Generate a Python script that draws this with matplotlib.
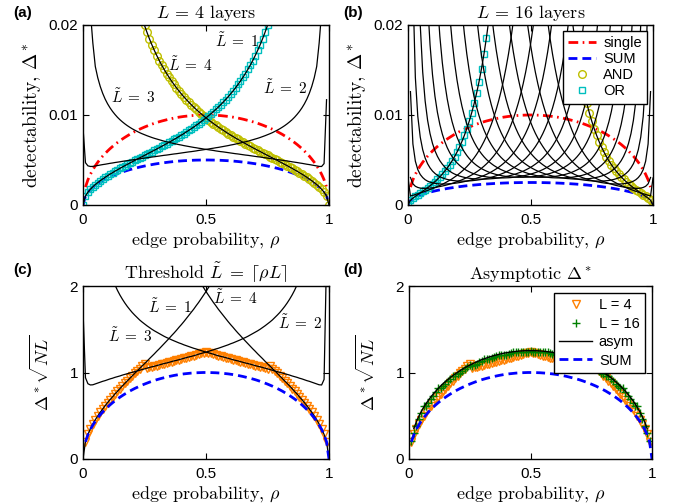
import numpy as np
import matplotlib
matplotlib.use("Agg")
import matplotlib.pyplot as plt

plt.rcParams['mathtext.fontset'] = 'cm'
plt.rcParams['font.family'] = ['Liberation Sans', 'DejaVu Sans']

# edge probability grid (step 0.01)
rho = np.arange(101) / 100.0

# bell profile of the single / SUM curves, peak 1000 at rho = 0.5
# single: x1e-5 ; SUM (panels c,d): x1e-3
bell = [0, 199, 280, 341, 392, 436, 475, 510, 543, 572,
        600, 626, 650, 673, 694, 714, 733, 751, 768, 785,
        800, 815, 828, 842, 854, 866, 877, 888, 898, 908,
        917, 925, 933, 940, 947, 954, 960, 966, 971, 976,
        980, 984, 987, 990, 993, 995, 997, 998, 999, 1000,
        1000, 1000, 999, 998, 997, 995, 993, 990, 987, 984,
        980, 976, 971, 966, 960, 954, 947, 940, 933, 925,
        917, 908, 898, 888, 877, 866, 854, 842, 828, 815,
        800, 785, 768, 751, 733, 714, 694, 673, 650, 626,
        600, 572, 543, 510, 475, 436, 392, 341, 280, 199, 0]

# asymptotic Delta* sqrt(NL), x1e-3
asym = [0, 249, 351, 428, 491, 546, 595, 640, 680, 717,
        752, 784, 815, 843, 870, 895, 919, 942, 963, 983,
        1003, 1021, 1038, 1055, 1071, 1085, 1099, 1113, 1125, 1137,
        1149, 1159, 1169, 1179, 1187, 1196, 1203, 1210, 1217, 1223,
        1228, 1233, 1237, 1241, 1244, 1247, 1249, 1251, 1252, 1253,
        1253, 1253, 1252, 1251, 1249, 1247, 1244, 1241, 1237, 1233,
        1228, 1223, 1217, 1210, 1203, 1196, 1187, 1179, 1169, 1159,
        1149, 1137, 1125, 1113, 1099, 1085, 1071, 1055, 1038, 1021,
        1003, 983, 963, 942, 919, 895, 870, 843, 815, 784,
        752, 717, 680, 640, 595, 546, 491, 428, 351, 249, 0]

# L = 4 threshold curves, Delta* x1e-5, first grid index in l4_start
l4_start = [0, 0, 1, 24]
l4_t1 = [0, 100, 142, 175, 202, 227, 249, 270, 289, 308,
         326, 343, 359, 376, 391, 407, 422, 437, 451, 466,
         480, 495, 509, 523, 537, 551, 565, 580, 594, 608,
         623, 637, 652, 667, 682, 697, 713, 728, 744, 761,
         777, 794, 812, 830, 848, 866, 886, 905, 926, 947,
         968, 991, 1014, 1038, 1062, 1088, 1115, 1143, 1172, 1202,
         1234, 1267, 1302, 1339, 1377, 1418, 1461, 1506, 1554, 1605,
         1660, 1718, 1780, 1847, 1919, 1996, 2080]
l4_t2 = [860, 470, 435, 428, 429, 434, 439, 444, 449, 453,
         458, 463, 467, 472, 476, 480, 485, 489, 493, 497,
         501, 505, 509, 513, 517, 521, 525, 529, 533, 536,
         540, 544, 548, 552, 555, 559, 563, 567, 570, 574,
         578, 582, 586, 590, 593, 597, 601, 606, 610, 614,
         618, 622, 627, 631, 636, 640, 645, 650, 655, 660,
         666, 671, 677, 683, 689, 696, 702, 709, 717, 725,
         733, 741, 750, 760, 770, 781, 792, 804, 818, 832,
         847, 864, 882, 902, 924, 948, 975, 1006, 1040, 1079,
         1124, 1177, 1241, 1318, 1414, 1539, 1800, 2150, 2900, 3354]
l4_t3 = [3354, 2900, 2150, 1800, 1539, 1414, 1318, 1241, 1177,
         1124, 1079, 1040, 1006, 975, 948, 924, 902, 882, 864,
         847, 832, 818, 804, 792, 781, 770, 760, 750, 741,
         733, 725, 717, 709, 702, 696, 689, 683, 677, 671,
         666, 660, 655, 650, 645, 640, 636, 631, 627, 622,
         618, 614, 610, 606, 601, 597, 593, 590, 586, 582,
         578, 574, 570, 567, 563, 559, 555, 552, 548, 544,
         540, 536, 533, 529, 525, 521, 517, 513, 509, 505,
         501, 497, 493, 489, 485, 480, 476, 472, 467, 463,
         458, 453, 449, 444, 439, 434, 429, 428, 460, 1170]
l4_t4 = [2080, 1996, 1919, 1847, 1780, 1718, 1660, 1605, 1554, 1506,
         1461, 1418, 1377, 1339, 1302, 1267, 1234, 1202, 1172, 1143,
         1115, 1088, 1062, 1038, 1014, 991, 968, 947, 926, 905,
         886, 866, 848, 830, 812, 794, 777, 761, 744, 728,
         713, 697, 682, 667, 652, 637, 623, 608, 594, 580,
         565, 551, 537, 523, 509, 495, 480, 466, 451, 437,
         422, 407, 391, 376, 359, 343, 326, 308, 289, 270,
         249, 227, 202, 175, 142, 100, 0]

# L = 16 threshold curves, Delta* x1e-5, first grid index in l16_start
l16_start = [0, 0, 1, 1, 2, 5, 8, 12, 17, 22, 28, 34, 41, 48, 57, 67]
l16_t1 = [0, 52, 76, 96, 115, 134, 153, 172, 192, 213, 236, 260, 285, 313, 343, 375, 410,
          449, 491, 537, 588, 643, 705, 773, 848, 932, 1025, 1128, 1243, 1371, 1515, 1676,
          1857, 2061]
l16_t2 = [300, 100, 108, 117, 125, 134, 143, 152, 162, 172, 182, 193, 205, 217, 230, 244,
          259, 274, 291, 310, 329, 351, 374, 399, 426, 456, 489, 524, 563, 606, 653, 705,
          762, 826, 896, 974, 1061, 1158, 1266, 1387, 1523, 1675, 1847, 2041]
l16_t3 = [306, 235, 208, 195, 188, 185, 185, 186, 188, 191, 195, 200, 205, 211, 217, 224,
          232, 240, 249, 259, 269, 280, 292, 305, 319, 334, 350, 368, 387, 408, 431, 456,
          483, 513, 545, 581, 620, 664, 711, 764, 823, 888, 960, 1041, 1131, 1232, 1346,
          1474, 1618, 1782, 1967, 2179]
l16_t4 = [1260, 678, 487, 393, 339, 305, 281, 265, 254, 246, 240, 236, 234, 233, 233, 234,
          236, 238, 241, 245, 249, 254, 260, 266, 272, 280, 288, 297, 306, 317, 328, 340,
          353, 368, 384, 401, 419, 440, 462, 487, 513, 543, 575, 611, 651, 694, 743, 796,
          856, 923, 998, 1083, 1177, 1284, 1405, 1543, 1700, 1879, 2084]
l16_t5 = [2437, 1417, 984, 754, 614, 522, 458, 412, 377, 351, 330, 314, 302, 292, 284, 278,
          273, 270, 267, 266, 265, 266, 266, 268, 270, 273, 276, 280, 284, 290, 295, 301,
          308, 316, 325, 334, 344, 355, 367, 381, 395, 411, 429, 448, 469, 492, 517, 546,
          577, 611, 649, 692, 739, 792, 852, 919, 994, 1079, 1176, 1286, 1412, 1557, 1723,
          1916, 2141]
l16_t6 = [2001, 1477, 1155, 941, 792, 684, 603, 541, 492, 454, 422, 397, 376, 358, 344, 332,
          322, 314, 307, 301, 297, 293, 291, 289, 288, 287, 288, 288, 290, 292, 294, 297,
          301, 305, 310, 316, 322, 329, 337, 345, 355, 365, 376, 389, 403, 418, 435, 454,
          474, 497, 522, 551, 582, 617, 656, 700, 749, 804, 867, 939, 1020, 1114, 1221,
          1346, 1490, 1659, 1857, 2091]
l16_t7 = [2258, 1780, 1448, 1208, 1031, 895, 789, 706, 638, 583, 538, 500, 468, 442, 419,
          399, 383, 369, 356, 346, 337, 329, 323, 317, 313, 309, 306, 304, 302, 301, 301,
          301, 302, 303, 305, 308, 311, 315, 319, 324, 329, 336, 343, 351, 360, 370, 381,
          393, 407, 422, 439, 458, 479, 502, 528, 558, 591, 628, 670, 718, 773, 835, 907,
          991, 1087, 1200, 1333, 1491, 1678, 1904, 2177]
l16_t8 = [2264, 1875, 1583, 1357, 1180, 1039, 925, 832, 754, 690, 636, 590, 550, 516, 487,
          462, 440, 421, 404, 390, 377, 365, 355, 347, 339, 333, 327, 322, 318, 315, 312,
          310, 309, 308, 308, 308, 309, 310, 312, 315, 318, 322, 326, 331, 337, 344, 351,
          360, 370, 381, 393, 407, 423, 440, 460, 482, 507, 536, 569, 606, 649, 698, 755,
          821, 899, 991, 1100, 1231, 1389, 1582, 1822, 2121]
l16_t9 = [2121, 1822, 1582, 1389, 1231, 1100, 991, 899, 821, 755, 698, 649, 606, 569, 536,
          507, 482, 460, 440, 423, 407, 393, 381, 370, 360, 351, 344, 337, 331, 326, 322,
          318, 315, 312, 310, 309, 308, 308, 308, 309, 310, 312, 315, 318, 322, 327, 333,
          339, 347, 355, 365, 377, 390, 404, 421, 440, 462, 487, 516, 550, 590, 636, 690,
          754, 832, 925, 1039, 1180, 1357, 1583, 1875, 2264]
l16_t10 = [2177, 1904, 1678, 1491, 1333, 1200, 1087, 991, 907, 835, 773, 718, 670, 628, 591,
           558, 528, 502, 479, 458, 439, 422, 407, 393, 381, 370, 360, 351, 343, 336, 329,
           324, 319, 315, 311, 308, 305, 303, 302, 301, 301, 301, 302, 304, 306, 309, 313,
           317, 323, 329, 337, 346, 356, 369, 383, 399, 419, 442, 468, 500, 538, 583, 638,
           706, 789, 895, 1031, 1208, 1448, 1780, 2258]
l16_t11 = [2091, 1857, 1659, 1490, 1346, 1221, 1114, 1020, 939, 867, 804, 749, 700, 656, 617,
           582, 551, 522, 497, 474, 454, 435, 418, 403, 389, 376, 365, 355, 345, 337, 329,
           322, 316, 310, 305, 301, 297, 294, 292, 290, 288, 288, 287, 288, 289, 291, 293,
           297, 301, 307, 314, 322, 332, 344, 358, 376, 397, 422, 454, 492, 541, 603, 684,
           792, 941, 1155, 1477, 2001]
l16_t12 = [2141, 1916, 1723, 1557, 1412, 1286, 1176, 1079, 994, 919, 852, 792, 739, 692, 649,
           611, 577, 546, 517, 492, 469, 448, 429, 411, 395, 381, 367, 355, 344, 334, 325,
           316, 308, 301, 295, 290, 284, 280, 276, 273, 270, 268, 266, 266, 265, 266, 267,
           270, 273, 278, 284, 292, 302, 314, 330, 351, 377, 412, 458, 522, 614, 754, 984,
           1417, 2437]
l16_t13 = [2084, 1879, 1700, 1543, 1405, 1284, 1177, 1083, 998, 923, 856, 796, 743, 694, 651,
           611, 575, 543, 513, 487, 462, 440, 419, 401, 384, 368, 353, 340, 328, 317, 306,
           297, 288, 280, 272, 266, 260, 254, 249, 245, 241, 238, 236, 234, 233, 233, 234,
           236, 240, 246, 254, 265, 281, 305, 339, 393, 487, 678, 1260]
l16_t14 = [2179, 1967, 1782, 1618, 1474, 1346, 1232, 1131, 1041, 960, 888, 823, 764, 711, 664,
           620, 581, 545, 513, 483, 456, 431, 408, 387, 368, 350, 334, 319, 305, 292, 280,
           269, 259, 249, 240, 232, 224, 217, 211, 205, 200, 195, 191, 188, 186, 185, 185,
           188, 195, 208, 235, 306]
l16_t15 = [2041, 1847, 1675, 1523, 1387, 1266, 1158, 1061, 974, 896, 826, 762, 705, 653, 606,
           563, 524, 489, 456, 426, 399, 374, 351, 329, 310, 291, 274, 259, 244, 230, 217,
           205, 193, 182, 172, 162, 152, 143, 134, 125, 117, 108, 100, 300]
l16_t16 = [2061, 1857, 1676, 1515, 1371, 1243, 1128, 1025, 932, 848, 773, 705, 643, 588, 537,
           491, 449, 410, 375, 343, 313, 285, 260, 236, 213, 192, 172, 153, 134, 115, 96, 76,
           52, 0]

l4_vals = [l4_t1, l4_t2, l4_t3, l4_t4]
l16_vals = [l16_t1, l16_t2, l16_t3, l16_t4, l16_t5, l16_t6, l16_t7, l16_t8,
            l16_t9, l16_t10, l16_t11, l16_t12, l16_t13, l16_t14, l16_t15, l16_t16]


def full(vals, start, unit):
    y = np.full(101, np.nan)
    y[start:start + len(vals)] = np.array(vals, float) * unit
    return y


thr4 = [full(v, s, 1e-5) for v, s in zip(l4_vals, l4_start)]
thr16 = [full(v, s, 1e-5) for v, s in zip(l16_vals, l16_start)]
single = np.array(bell) * 1e-5
sum_norm = np.array(bell) * 1e-3          # SUM as Delta* sqrt(NL)
asym = np.array(asym) * 1e-3
N = 1e4

idx = np.arange(1, 100)
pick4 = np.array([thr4[-(-4 * i // 100) - 1][i] for i in idx]) * np.sqrt(N * 4)
pick16 = np.array([thr16[-(-16 * i // 100) - 1][i] for i in idx]) * np.sqrt(N * 16)

RED, BLUE = '#ff0000', '#0000ff'
YEL, CYAN = '#bfbf00', '#00bfbf'
ORANGE, GREEN = '#ff8000', '#008000'
DASHDOT = (3.5, 1.6, 0.6, 1.6)
DASH = (3.2, 1.8)
serif = dict(family='cmr10')

fig = plt.figure(figsize=(6.83, 5.04), dpi=100)
W, H = 683., 504.


def box(l, r, t, b):
    return [l / W, 1 - b / H, (r - l) / W, (b - t) / H]


axa = fig.add_axes(box(83, 329, 25, 205))
axb = fig.add_axes(box(408, 653, 25, 205))
axc = fig.add_axes(box(83, 329, 286, 459))
axd = fig.add_axes(box(409, 652, 286, 459))

# (a), (b): detectability for L = 4 and L = 16
for ax, L, thr in [(axa, 4, thr4), (axb, 16, thr16)]:
    ax.plot(rho[1:100], single[1:100], color=RED, lw=2, dashes=DASHDOT, label='single')
    ax.plot(rho, single / np.sqrt(L), color=BLUE, lw=2, dashes=DASH, label='SUM')
    ax.plot(rho, thr[-1], 'o', mfc='none', mec=YEL, ms=5.5, mew=1, label='AND')
    ax.plot(rho, thr[0], 's', mfc='none', mec=CYAN, ms=4.5, mew=1, label='OR')
    for y in thr:
        ax.plot(rho, y, color='k', lw=0.9)
    ax.set_ylim(0, 0.02)
    ax.set_yticks([0, 0.01, 0.02])
    ax.set_yticklabels(['0', '0.01', '0.02'])
    ax.set_ylabel(r'detectability, $\Delta^*$', fontsize=14, **serif)
    ax.set_title(r'$L$ = %d layers' % L, fontsize=13, pad=5, **serif)

axb.legend(loc='upper right', fontsize=10.5, numpoints=1, handlelength=1.9,
           handletextpad=0.5, labelspacing=0.15, borderpad=0.35, borderaxespad=0.4,
           fancybox=False, framealpha=1, edgecolor='k')

# (c): scaled curves, threshold ceil(rho L)
axc.plot(rho[idx], pick4, 'v', mfc='none', mec=ORANGE, ms=6, mew=1)
for y in thr4:
    axc.plot(rho, y * np.sqrt(N * 4), color='k', lw=0.9)
axc.plot(rho[1:], sum_norm[1:], color=BLUE, lw=2, dashes=DASH)

# (d): asymptotic comparison
axd.plot(rho[idx], pick4, 'v', mfc='none', mec=ORANGE, ms=6, mew=1, label='L = 4')
axd.plot(rho[idx], pick16, '+', color=GREEN, ms=6, mew=1, label='L = 16')
axd.plot(rho[2:99], asym[2:99], color='k', lw=1, label='asym')
axd.plot(rho[1:], sum_norm[1:], color=BLUE, lw=2, dashes=DASH, label='SUM')
axd.legend(loc='upper right', fontsize=10.5, numpoints=1, handlelength=2.2,
           handletextpad=0.5, labelspacing=0.3, borderpad=0.4, borderaxespad=0.45,
           fancybox=False, framealpha=1, edgecolor='k')

for ax in [axc, axd]:
    ax.set_ylim(0, 2)
    ax.set_yticks([0, 1, 2])
    ax.set_ylabel(r'$\Delta^*\sqrt{NL}$', fontsize=13, labelpad=12)
axc.set_title(r'Threshold $\tilde{L}\;=\;\lceil \rho L \rceil$', fontsize=13, pad=5, **serif)
axd.set_title(r'Asymptotic $\Delta^*$', fontsize=13, pad=4, **serif)

lab = dict(fontsize=11, ha='center', va='center')
axa.text(0.626, 0.0183, r'$\tilde{L}\;=\;1$', **lab)
axa.text(0.435, 0.0156, r'$\tilde{L}\;=\;4$', **lab)
axa.text(0.821, 0.0130, r'$\tilde{L}\;=\;2$', **lab)
axa.text(0.203, 0.0120, r'$\tilde{L}\;=\;3$', **lab)
axc.text(0.354, 1.76, r'$\tilde{L}\;=\;1$', **lab)
axc.text(0.618, 1.86, r'$\tilde{L}\;=\;4$', **lab)
axc.text(0.882, 1.58, r'$\tilde{L}\;=\;2$', **lab)
axc.text(0.191, 1.43, r'$\tilde{L}\;=\;3$', **lab)

for ax in [axa, axb, axc, axd]:
    ax.set_xlim(0, 1)
    ax.set_xticks([0, 0.5, 1])
    ax.set_xticklabels(['0', '0.5', '1'])
    ax.tick_params(direction='in', top=True, right=True, labelsize=11, length=4)
    ax.tick_params(axis='x', pad=6)
    ax.set_xlabel(r'edge probability, $\rho$', fontsize=13, labelpad=2, **serif)
    for s in ax.spines.values():
        s.set_linewidth(1.0)

for t, (px, py) in zip('abcd', [(13, 13), (343, 13), (13, 270), (343, 270)]):
    fig.text(px / W, 1 - py / H, '(%s)' % t, fontsize=11, weight='bold', va='center')

plt.savefig('out.png')
